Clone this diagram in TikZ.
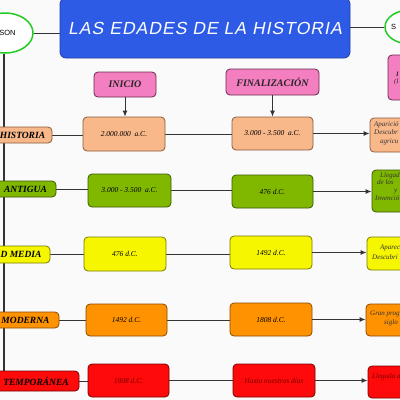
\documentclass[tikz,border=0pt]{standalone}
\usepackage{fontspec}
\setmainfont{Liberation Serif}
\newfontfamily\titlefont[LetterSpace=6,FakeSlant=0.2]{Liberation Sans}
\newfontfamily\plainsans{Liberation Sans}
\usetikzlibrary{shapes.geometric,arrows.meta,backgrounds}
\definecolor{bgc}{HTML}{FAFAFA}
\definecolor{titleblue}{HTML}{2D5BE6}
\definecolor{pinkc}{HTML}{F37EC0}
\definecolor{pinkd}{HTML}{6A2A50}
\definecolor{salmon}{HTML}{F9B88A}
\definecolor{salmond}{HTML}{8A5A3A}
\definecolor{greenc}{HTML}{80B800}
\definecolor{greend}{HTML}{3A5A00}
\definecolor{yellowc}{HTML}{F6F600}
\definecolor{yellowd}{HTML}{7A7A00}
\definecolor{orangec}{HTML}{FF9200}
\definecolor{oranged}{HTML}{8A4A00}
\definecolor{redc}{HTML}{FF0A0A}
\definecolor{redd}{HTML}{7A0000}
\definecolor{linec}{HTML}{333333}
\definecolor{ellgreen}{HTML}{22CC22}
\tikzset{
  box/.style={rectangle, rounded corners=4pt, line width=0.8pt, inner sep=0pt},
  lab/.style={box, font=\fontsize{9.5}{11}\selectfont\bfseries\itshape},
  val/.style={box, font=\fontsize{7.5}{9}\selectfont\itshape},
  rtxt/.style={anchor=north west, align=left, inner sep=0pt, font=\fontsize{7}{8.6}\selectfont\itshape},
  head/.style={box, fill=pinkc, draw=pinkd, text=black!85, font=\fontsize{10}{12}\selectfont\bfseries\itshape},
  conn/.style={draw=linec, line width=1pt},
  arr/.style={conn, -{Latex[length=6pt,width=5pt]}},
  ell/.style={ellipse, draw=ellgreen, line width=1.5pt, fill=white, inner sep=0pt}
}
\begin{document}
\begin{tikzpicture}[x=1pt,y=-1pt]
\useasboundingbox (0,0) rectangle (400,400);
\clip (0,0) rectangle (400,400);

% title and ellipses
\node[box, rounded corners=6pt, fill=titleblue, draw=titleblue!70!black, minimum width=290pt, minimum height=60pt, text=white, font=\titlefont\fontsize{17.5}{20}\selectfont] (title) at (205,28) {LAS EDADES DE LA HISTORIA};
\node[ell, minimum width=56pt, minimum height=40pt] (lell) at (5,33) {};
\node[font=\plainsans\fontsize{7.5}{9}\selectfont, inner sep=0pt] (ltxt) at (7.5,33) {SON};
\node[ell, minimum width=50pt, minimum height=34pt] (rell) at (410,27) {};
\node[font=\plainsans\fontsize{7.5}{9}\selectfont, inner sep=0pt, anchor=west] (rtxt) at (391,27) {S};

% headers
\node[head, minimum width=62pt, minimum height=25pt] (h1) at (125,84.5) {INICIO};
\node[head, minimum width=93pt, minimum height=26pt] (h2) at (272.5,82) {FINALIZACIÓN};
\node[head, minimum width=32pt, minimum height=45pt] (h3) at (404,77.5) {};
\node[anchor=north west, align=left, inner sep=0pt, text=black!85, font=\fontsize{6.5}{8}\selectfont\bfseries\itshape] (h3t) at (396,72) {I\\[-1pt]\hspace{-2pt}\mdseries(I};

% row 1
\node[lab, fill=salmon, draw=salmond, minimum width=59pt, minimum height=16pt] (l1) at (22.5,135) {HISTORIA};
\node[val, fill=salmon, draw=salmond, minimum width=82pt, minimum height=34pt] (b11) at (124,134) {2.000.000\ \ a.C.};
\node[val, fill=salmon, draw=salmond, minimum width=81pt, minimum height=33pt] (b12) at (272.5,133.5) {3.000 - 3.500\ \ a.C.};
\node[box, fill=salmon, draw=salmond, minimum width=60pt, minimum height=34pt] (b13) at (400,135) {};
\node[rtxt, text=black!80] (t13) at (374,121) {Aparició\\Descubr\\\hspace{6pt}agricu};

% row 2
\node[lab, fill=greenc, draw=greend, minimum width=61pt, minimum height=16pt] (l2) at (25.5,189) {ANTIGUA};
\node[val, fill=greenc, draw=greend, minimum width=83pt, minimum height=33pt] (b21) at (129.5,190.5) {3.000 - 3.500\ \ a.C.};
\node[val, fill=greenc, draw=greend, minimum width=81pt, minimum height=33pt] (b22) at (272.5,191.5) {476 d.C.};
\node[box, fill=greenc, draw=greend, minimum width=58pt, minimum height=42pt] (b23) at (401,191) {};
\node[rtxt, text=black!80, font=\fontsize{7}{7.8}\selectfont\itshape] (t23) at (375,172) {\hspace{5pt}Llegad\\\hspace{2pt}de los\\\hspace{19pt}y\\Invenció};

% row 3
\node[lab, fill=yellowc, draw=yellowd, minimum width=58pt, minimum height=17pt] (l3) at (21,254.5) {D MEDIA};
\node[val, fill=yellowc, draw=yellowd, minimum width=82pt, minimum height=34pt] (b31) at (125,254) {476 d.C.};
\node[val, fill=yellowc, draw=yellowd, minimum width=82pt, minimum height=33pt] (b32) at (271,252.5) {1492 d.C.};
\node[box, fill=yellowc, draw=yellowd, minimum width=63pt, minimum height=33pt] (b33) at (398.5,253.5) {};
\node[rtxt, text=black!80, font=\fontsize{7}{9.5}\selectfont\itshape] (t33) at (372,245) {\hspace{8pt}Aparec\\Descubri};

% row 4
\node[lab, fill=orangec, draw=oranged, minimum width=67pt, minimum height=16pt] (l4) at (25.5,320) {MODERNA};
\node[val, fill=orangec, draw=oranged, minimum width=81pt, minimum height=32pt] (b41) at (126.5,320) {1492 d.C.};
\node[val, fill=orangec, draw=oranged, minimum width=82pt, minimum height=33pt] (b42) at (271,319.5) {1808 d.C.};
\node[box, fill=orangec, draw=oranged, minimum width=64pt, minimum height=32pt] (b43) at (398,320) {};
\node[rtxt, text=black!80, font=\fontsize{7}{8.5}\selectfont\itshape] (t43) at (370,311) {Gran prog\\\hspace{14pt}siglo};

% row 5
\node[lab, fill=redc, draw=redd, minimum width=86pt, minimum height=20pt] (l5) at (36,381) {TEMPORÁNEA};
\node[val, fill=redc, draw=redd, text=redd, minimum width=81pt, minimum height=33pt] (b51) at (128.5,380.5) {1808 d.C.};
\node[val, fill=redc, draw=redd, text=redd, minimum width=82pt, minimum height=33pt] (b52) at (274,380.5) {Hasta nuestros días};
\node[box, fill=redc, draw=redd, minimum width=62pt, minimum height=32pt] (b53) at (399,382) {};
\node[rtxt, text=redd] (t53) at (372,373) {Llegada a};

% connectors on background
\begin{pgfonlayer}{background}
\fill[bgc] (0,0) rectangle (400,400);
\draw[conn] (lell.east) -- (lell.east -| title.west);
\draw[conn] (rell.west -| title.east) -- (rell.west);
\draw[conn] ([xshift=-1pt]lell.south) -- ([xshift=-1pt]lell.south |- l5.north);
\foreach \r in {1,...,5}{
  \draw[conn] (l\r.east) -- (l\r.east -| b\r1.west);
  \draw[conn] (b\r1.east) -- (b\r1.east -| b\r2.west);
}
\end{pgfonlayer}
\foreach \r in {1,...,5}{
  \draw[arr] (b\r2.east) -- (b\r2.east -| b\r3.west);
}
\draw[arr] (h1.south) -- (h1.south |- b11.north);
\draw[arr] (h2.south) -- (h2.south |- b12.north);
\end{tikzpicture}
\end{document}
